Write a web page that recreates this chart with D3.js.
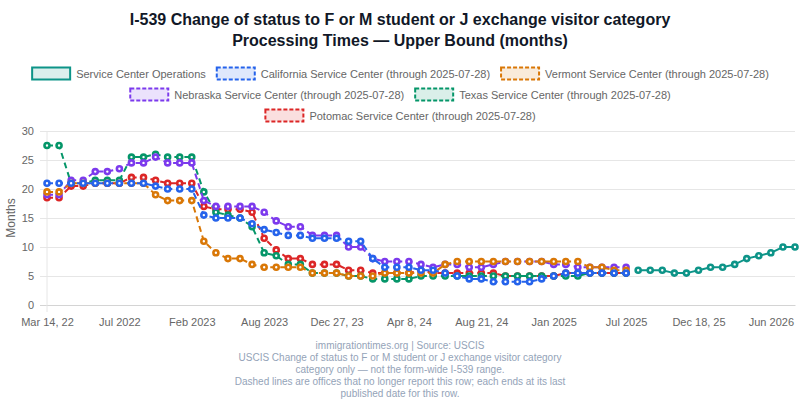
<!DOCTYPE html>
<html>
<head>
<meta charset="utf-8">
<script src="https://cdn.jsdelivr.net/npm/d3@7"></script>
<style>
  html, body { margin: 0; padding: 0; background: #fff; }
  svg { display: block; font-family: "Liberation Sans", Arial, Helvetica, sans-serif; }
</style>
</head>
<body>
<svg id="chart" width="800" height="400"></svg>
<script>
// ---- Data ----
const pointCount = 63;
const tickIndexes = [0, 6, 12, 18, 24, 30, 36, 42, 48, 54, 60];
const tickLabels = ["Mar 14, 22", "Jul 2022", "Feb 2023", "Aug 2023", "Dec 27, 23", "Apr 8, 24",
  "Aug 21, 24", "Jan 2025", "Jul 2025", "Dec 18, 25", "Jun 2026"];
const yTicks = [0, 5, 10, 15, 20, 25, 30];

const seriesNames = [
  "Service Center Operations",
  "California Service Center (through 2025-07-28)",
  "Vermont Service Center (through 2025-07-28)",
  "Nebraska Service Center (through 2025-07-28)",
  "Texas Service Center (through 2025-07-28)",
  "Potomac Service Center (through 2025-07-28)"
];
const seriesColors = ["#0d9488", "#2563eb", "#d97706", "#7c3aed", "#059669", "#dc2626"];
const seriesDashed = [false, true, true, true, true, true];

// Service Center Operations: indexes 49..62
const operationsStart = 49;
const operations = [6, 6, 6, 5.5, 5.5, 6, 6.5, 6.5, 7, 8, 8.5, 9, 10, 10];

// Office series: indexes 0..48
const california = [21, 21, 21, 21, 21, 21, 21, 21, 21, 20.5, 20, 20, 20, 15.5, 15, 15, 15, 14, 13, 12.5,
  12, 12, 11.5, 11.5, 11.5, 11, 11, 8, 6.5, 6.5, 6.5, 6, 6, 5.5, 5, 4.5, 4.5, 4, 4, 4,
  4, 4.5, 5, 5.5, 5.5, 5.5, 5.5, 5.5, 5.5];
const vermont = [19.5, 19.5, 21, 21, 21, 21, 21, 21, 21, 19, 18, 18, 18, 11, 9, 8, 8, 7, 6.5, 6.5,
  6.5, 6.5, 5.5, 5.5, 5.5, 5, 5, 5, 5.5, 5.5, 5.5, 5.5, 5.5, 7, 7.5, 7.5, 7.5, 7.5, 7.5, 7.5,
  7.5, 7.5, 7.5, 7.5, 7.5, 6.5, 6.5, 6, 6];
const nebraska = [19, 19, 21.5, 21.5, 23, 23, 23.5, 24.5, 24.5, 25.5, 24.5, 24.5, 24.5, 18, 17, 17, 17, 17, 16, 14.5,
  13.5, 13.5, 12, 12, 12, 10, 10, 8, 7.5, 7.5, 7.5, 7, 6.5, 7, 7, 6.5, 6.5, 7, 7.5, 7.5,
  7.5, 7.5, 7, 7, 6.5, 6.5, 6.5, 6.5, 6.5];
const texas = [27.5, 27.5, 21, 21, 21.5, 21.5, 21.5, 25.5, 25.5, 26, 25.5, 25.5, 25.5, 19.5, 16, 15.5, 15, 13.5, 9, 8.5,
  7, 7, 5.5, 5.5, 5.5, 5, 5, 4.5, 4.5, 4.5, 4.5, 5, 5, 5, 5, 5, 5, 5, 5, 5,
  5, 5, 5, 5, 5, 5.5, 5.5, 5.5, 5.5];
const potomac = [18.5, 18.5, 20.5, 20.5, 21, 21, 21, 22, 22, 21.5, 21, 21, 21, 17, 16.5, 16.5, 16.5, 16, 11.5, 9.5,
  8, 8, 7, 7, 7, 6, 6, 5.5, 5.5, 5.5, 5.5, 6, 5.5, 5.5, 5.5, 5.5, 5.5, 5.5, 5, 5,
  5, 5, 5, 5.5, 5.5, 5.5, 5.5, 5.5, 5.5];

const titleLines = ["I-539 Change of status to F or M student or J exchange visitor category",
  "Processing Times \u2014 Upper Bound (months)"];
const footerLines = [
  "immigrationtimes.org | Source: USCIS",
  "USCIS Change of status to F or M student or J exchange visitor category",
  "category only \u2014 not the form-wide I-539 range.",
  "Dashed lines are offices that no longer report this row; each ends at its last",
  "published date for this row."
];

// ---- Build series ----
const seriesValues = [
  operations.map((v, i) => ({ i: operationsStart + i, v })),
  california.map((v, i) => ({ i, v })),
  vermont.map((v, i) => ({ i, v })),
  nebraska.map((v, i) => ({ i, v })),
  texas.map((v, i) => ({ i, v })),
  potomac.map((v, i) => ({ i, v }))
];

const svg = d3.select("#chart");
const W = 800, H = 400;
const plot = { left: 47, right: 795, top: 131, bottom: 305 };
const font = '"Liberation Sans", Arial, Helvetica, sans-serif';

const x = d3.scaleLinear().domain([0, pointCount - 1]).range([plot.left, plot.right]);
const y = d3.scaleLinear().domain([0, 30]).range([plot.bottom, plot.top]);

// Title
svg.append("g").selectAll("text").data(titleLines).join("text")
  .attr("x", W / 2).attr("y", (d, i) => 25 + i * 21)
  .attr("text-anchor", "middle")
  .attr("font-size", 16).attr("font-weight", "bold")
  .attr("fill", "#111827")
  .text(d => d);

// Legend
const legend = svg.append("g");
const legendFont = 11;
const boxW = 40, boxH = 12, itemPad = 10, textGap = 5, maxRow = 790;
const measure = svg.append("text").attr("font-size", legendFont).attr("font-family", font);
const items = seriesNames.map((name, k) => {
  measure.text(name);
  const tw = measure.node().getComputedTextLength();
  return { name, k, w: boxW + textGap + tw };
});
measure.remove();
const rows = [];
let cur = [], curW = 0;
items.forEach(it => {
  const add = (cur.length ? itemPad : 0) + it.w;
  if (cur.length && curW + add > maxRow) { rows.push(cur); cur = []; curW = 0; }
  curW += (cur.length ? itemPad : 0) + it.w;
  cur.push(it);
});
if (cur.length) rows.push(cur);
rows.forEach((row, r) => {
  const total = d3.sum(row, d => d.w) + itemPad * (row.length - 1);
  let cx = (W - total) / 2;
  const cy = 73.5 + r * 21;
  row.forEach(it => {
    const c = seriesColors[it.k];
    const g = legend.append("g");
    g.append("rect")
      .attr("x", cx + 1).attr("y", cy - boxH / 2)
      .attr("width", boxW - 2).attr("height", boxH)
      .attr("fill", d3.color(c).copy({ opacity: 0.15 }))
      .attr("stroke", c).attr("stroke-width", 2)
      .attr("stroke-dasharray", seriesDashed[it.k] ? "4,2" : null);
    g.append("text")
      .attr("x", cx + boxW + textGap).attr("y", cy + 4)
      .attr("font-size", legendFont).attr("fill", "#666")
      .text(it.name);
    cx += it.w + itemPad;
  });
});

// Y axis with gridlines
const yAxis = svg.append("g")
  .attr("transform", `translate(${plot.left},0)`)
  .call(d3.axisLeft(y).tickValues(yTicks).tickSize(-(plot.right - plot.left)).tickPadding(13));
yAxis.select(".domain").remove();
yAxis.selectAll(".tick line").attr("stroke", "#e6e6e6").attr("x1", -7);
yAxis.selectAll(".tick text").attr("font-size", 11).attr("fill", "#666").attr("font-family", font);
yAxis.selectAll(".tick").filter(d => d === 0).select("line").attr("stroke", "#d4d4d4");

// Left border
svg.append("line")
  .attr("x1", plot.left).attr("x2", plot.left)
  .attr("y1", plot.top).attr("y2", plot.bottom + 7)
  .attr("stroke", "#e6e6e6");

// X axis
const xAxis = svg.append("g")
  .attr("transform", `translate(0,${plot.bottom})`)
  .call(d3.axisBottom(x).tickValues(tickIndexes)
    .tickFormat(d => tickLabels[tickIndexes.indexOf(d)]).tickSize(0).tickPadding(13));
xAxis.select(".domain").attr("stroke", "#d4d4d4");
xAxis.selectAll(".tick text").attr("font-size", 11).attr("fill", "#666").attr("font-family", font);

// Y axis title
svg.append("text")
  .attr("transform", `translate(15,${(plot.top + plot.bottom) / 2}) rotate(-90)`)
  .attr("text-anchor", "middle")
  .attr("font-size", 12).attr("fill", "#666")
  .text("Months");

// Lines (draw in reverse so first dataset is on top)
const line = d3.line().x(d => x(d.i)).y(d => y(d.v));
const order = d3.range(seriesValues.length).reverse();
const marks = svg.append("g");
order.forEach(k => {
  const g = marks.append("g");
  g.append("path")
    .datum(seriesValues[k])
    .attr("d", line)
    .attr("fill", "none")
    .attr("stroke", seriesColors[k])
    .attr("stroke-width", 2)
    .attr("stroke-dasharray", seriesDashed[k] ? "6,4" : null);
  g.selectAll("circle").data(seriesValues[k]).join("circle")
    .attr("cx", d => x(d.i)).attr("cy", d => y(d.v))
    .attr("r", 2.5)
    .attr("fill", "#fff")
    .attr("stroke", seriesColors[k])
    .attr("stroke-width", 2.6);
});

// Footer
svg.append("g").selectAll("text").data(footerLines).join("text")
  .attr("x", W / 2).attr("y", (d, i) => 348.5 + i * 12)
  .attr("text-anchor", "middle")
  .attr("font-size", 10).attr("fill", "#94a3b8")
  .text(d => d);
</script>
</body>
</html>
